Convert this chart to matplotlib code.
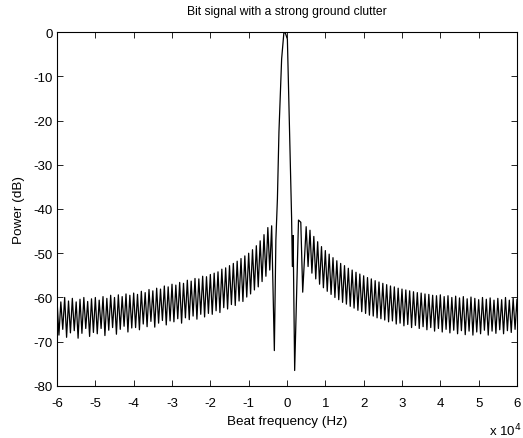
import numpy as np
import matplotlib
matplotlib.use('Agg')
import matplotlib.pyplot as plt

plt.rcParams['font.family'] = ['Liberation Sans', 'DejaVu Sans']
plt.rcParams['axes.unicode_minus'] = False

# sidelobe extrema (dB), left of the main lobe, -60 kHz .. -4.5 kHz
left_peaks = [-60.5, -61, -60, -60.8, -60.2, -61, -60.4, -60, -60.9, -60.3,
              -60, -60.6, -59.8, -60.2, -59.5, -60, -59.4, -59.8, -59.2, -59.5,
              -59, -59.3, -58.6, -58.9, -58.2, -58.5, -57.9, -58.1, -57.4, -57.6,
              -57, -57.2, -56.6, -56.8, -56.1, -56.3, -55.7, -55.8, -55.2, -55.3,
              -54.8, -54.5, -54.2, -53.6, -53.3, -52.8, -52.3, -51.8, -51.2, -50.6,
              -50, -49.2, -48.3, -47.2, -45.8, -44.2]
left_troughs = [-68.5, -67.2, -69, -68, -67.5, -69.2, -68.1, -67, -68.8, -67.9,
                -68.2, -67, -68.6, -67.4, -66.8, -68.3, -67.2, -66.5, -67.8, -66.9,
                -66.8, -67.3, -66, -66.6, -65.4, -66.7, -65.8, -65.2, -66.2, -65.3,
                -65.5, -64.8, -65.8, -64.6, -65.0, -64.2, -64.9, -63.8, -64.4, -63.6,
                -63.8, -63.0, -63.4, -62.3, -62.6, -61.6, -61.8, -60.8, -60.9, -59.9,
                -59.2, -58.3, -57.6, -56.4, -55.2, -53.8]

# main lobe and nulls (frequency in units of 1e4 Hz)
center_f = [-0.40, -0.33, -0.29, -0.25, -0.21, -0.14, -0.08, -0.04, 0.01, 0.06,
            0.10, 0.12, 0.14, 0.16, 0.20, 0.26, 0.30, 0.36, 0.41]
center_db = [-43.8, -72, -47, -37.7, -22.6, -6.1, 0, -0.3, -1.6, -19.7,
             -34.8, -42, -53, -46, -76.5, -56, -42.5, -43, -58.8]

# sidelobe extrema right of the main lobe, 5 kHz .. 60.5 kHz
right_peaks = [-44, -44.8, -46.2, -47.4, -48.5, -49.4, -50.2, -51, -51.7, -52.3,
               -52.8, -53.4, -53.8, -54.3, -54.7, -55.1, -55.5, -55.8, -56.2, -56.5,
               -56.8, -57.1, -57.4, -57.6, -57.9, -58.1, -58.3, -58.5, -58.7, -58.9,
               -59, -59.2, -59.3, -59.5, -59.6, -59.4, -59.8, -59.6, -60, -59.7,
               -60.1, -59.8, -60.3, -59.9, -60.2, -60.5, -60, -60.4, -60.1, -60.6,
               -60.2, -60.5, -60, -60.6, -60.2, -60.4]
right_troughs = [-53, -54.5, -55.8, -57, -57.8, -58.6, -59.3, -60, -60.5, -61.1,
                 -61.5, -62.0, -62.4, -62.9, -63.2, -63.6, -64, -64.2, -64.6, -64.8,
                 -65.1, -65.5, -65.3, -66, -65.8, -66.4, -66.1, -66.8, -66.3, -67,
                 -66.6, -67.3, -66.8, -67.6, -67, -67.8, -67.2, -68, -67.4, -68.2,
                 -67.5, -68.4, -67.6, -68.5, -67.8, -68.2, -67.4, -68.5, -67.6, -68.1,
                 -67.3, -68.2, -67.5, -67.9, -67.2, -69.5]

# FFT bin grid (Hz), one extremum every 500 Hz
left_f = np.linspace(-60000, -4500, 2 * len(left_peaks))
right_f = np.linspace(5000, 60500, 2 * len(right_peaks))

left_db = np.ravel(np.column_stack([left_peaks, left_troughs]))
right_db = np.ravel(np.column_stack([right_peaks, right_troughs]))

freq = np.concatenate([left_f, np.array(center_f) * 1e4, right_f])
power = np.concatenate([left_db, center_db, right_db])

fig = plt.figure(figsize=(5.23, 4.39), dpi=100)
ax = fig.add_axes([0.109, 0.1185, 0.8795, 0.8063])
ax.plot(freq, power, color='black', lw=0.9)

ax.set_xlim(-60000, 60000)
ax.set_ylim(-80, 0)
xt = np.arange(-6, 7)
ax.set_xticks(xt * 1e4)
ax.set_xticklabels([str(v) for v in xt])
ax.set_yticks(np.arange(-80, 1, 10))
ax.tick_params(direction='in', top=True, right=True, labelsize=9.5, length=4, width=0.6)
ax.tick_params(axis='x', pad=8)
ax.tick_params(axis='y', pad=3)
for s in ax.spines.values():
    s.set_linewidth(0.8)

ax.set_title('Bit signal with a strong ground clutter', fontsize=8.7, pad=13)
ax.set_xlabel('Beat frequency (Hz)', fontsize=9.7, labelpad=4)
ax.set_ylabel('Power (dB)', fontsize=9.7, labelpad=6)
fig.text(0.967, 0.0, 'x 10$^{4}$', fontsize=9.5, ha='center', va='bottom')

fig.savefig('out.png', dpi=100)
